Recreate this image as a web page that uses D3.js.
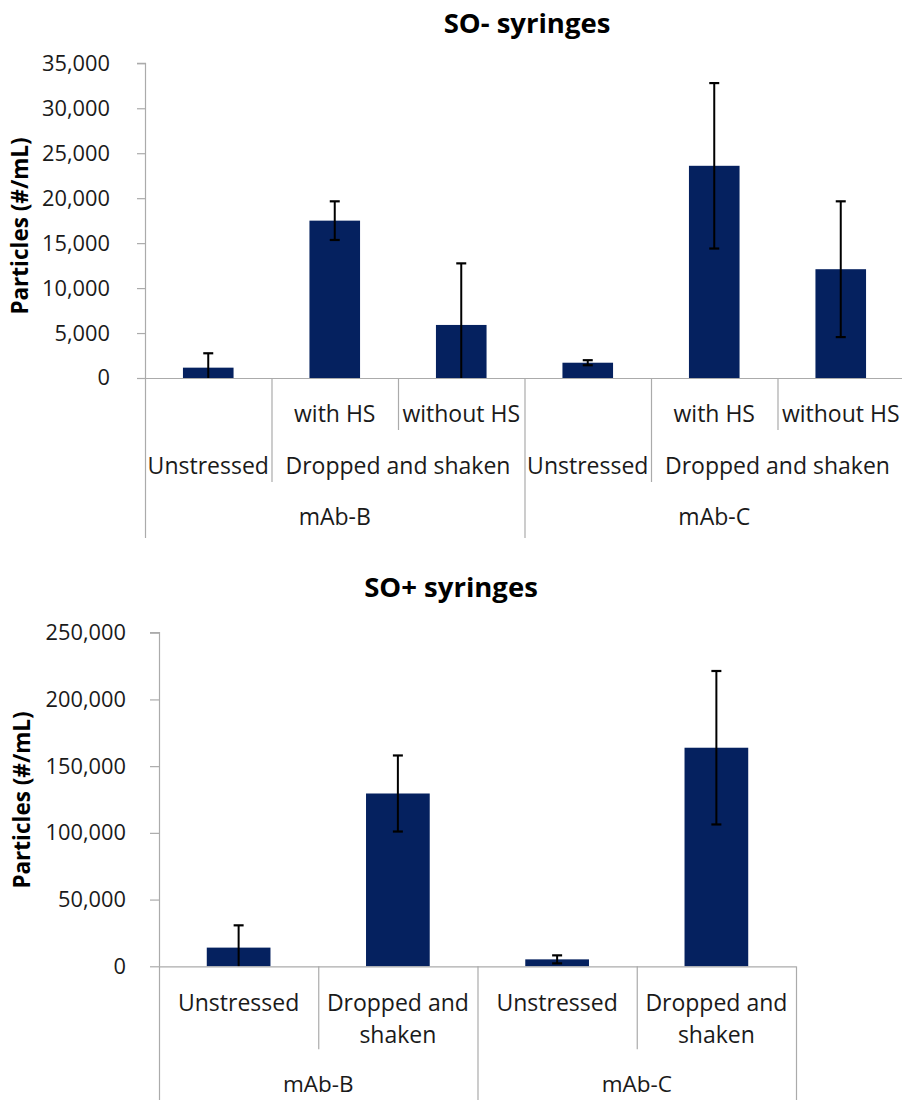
<!DOCTYPE html>
<html>
<head>
<meta charset="utf-8">
<script src="https://cdn.jsdelivr.net/npm/d3@7"></script>
<style>
  html, body { margin: 0; padding: 0; background: #fff; }
  svg { display: block; }
  text { font-family: "Open Sans", "Noto Sans", sans-serif; }
</style>
</head>
<body>
<svg id="chart" width="902" height="1100"></svg>
<script>
// ---------- DATA: SO- syringes ----------
const soMinusTitle = "SO- syringes";
const soMinusLeafLabels = ["", "with HS", "without HS", "", "with HS", "without HS"];
const soMinusMidLabels = ["Unstressed", "Dropped and shaken", "Unstressed", "Dropped and shaken"];
const soMinusMidSpans = [1, 2, 1, 2];
const soMinusGroupLabels = ["mAb-B", "mAb-C"];
const soMinusGroupSpans = [3, 3];
const soMinusValues = [1150, 17500, 5900, 1700, 23600, 12100];
const soMinusErrors = [1600, 2150, 6850, 280, 9200, 7550];
const soMinusTicks = [0, 5000, 10000, 15000, 20000, 25000, 30000, 35000];

// ---------- DATA: SO+ syringes ----------
const soPlusTitle = "SO+ syringes";
const soPlusLeafLabels = [["Unstressed"], ["Dropped and", "shaken"], ["Unstressed"], ["Dropped and", "shaken"]];
const soPlusGroupLabels = ["mAb-B", "mAb-C"];
const soPlusGroupSpans = [2, 2];
const soPlusValues = [14000, 129500, 5200, 163800];
const soPlusErrors = [16700, 28500, 3000, 57500];
const soPlusTicks = [0, 50000, 100000, 150000, 200000, 250000];

const yTitle = "Particles (#/mL)";

// ---------- STYLE ----------
const barColor = "#05215F";
const axisColor = "#ABABAB";
const textColor = "#1a1a1a";
const tickFont = 21.8;
const labelFont = 23;

const svg = d3.select("#chart");

function drawChart(cfg) {
  const g = svg.append("g");
  const n = cfg.values.length;
  const idx = d3.range(n);
  const x = d3.scaleBand().domain(idx).range([cfg.left, cfg.right]).paddingInner(0.6).paddingOuter(0.3);
  const cell = d3.scaleBand().domain(idx).range([cfg.left, cfg.right]).padding(0);
  const y = d3.scaleLinear().domain([0, d3.max(cfg.ticks)]).range([cfg.bottom, cfg.top]);

  // Title
  g.append("text").attr("x", cfg.titleX).attr("y", cfg.titleY)
    .attr("text-anchor", "middle").attr("font-weight", "bold")
    .attr("font-size", 27.5).attr("fill", "#000").text(cfg.title);

  // Y axis title
  g.append("text")
    .attr("transform", `translate(${cfg.yTitleX},${cfg.yTitleY}) rotate(-90)`)
    .attr("text-anchor", "middle").attr("font-weight", "bold")
    .attr("font-size", 22.5).attr("fill", "#000").text(yTitle);

  // Y axis
  const yAxis = d3.axisLeft(y).tickValues(cfg.ticks).tickSize(cfg.tickLen)
    .tickPadding(cfg.tickPad).tickFormat(d3.format(","));
  const ya = g.append("g").attr("transform", `translate(${cfg.left},0)`).call(yAxis);
  ya.select(".domain").attr("stroke", axisColor).attr("stroke-width", 1.2)
    .attr("d", `M${-cfg.tickLen},${y(d3.max(cfg.ticks))}H0.5V${cfg.bottom}`);
  ya.selectAll(".tick line").attr("stroke", axisColor).attr("stroke-width", 1.2);
  ya.selectAll(".tick text").attr("font-size", tickFont).attr("fill", textColor)
    .attr("font-family", "'Open Sans', sans-serif");

  // Bars
  g.selectAll("rect.bar").data(cfg.values).join("rect").attr("class", "bar")
    .attr("x", (d, i) => x(i)).attr("width", x.bandwidth())
    .attr("y", d => y(d)).attr("height", d => cfg.bottom - y(d))
    .attr("fill", barColor);

  // Error bars
  const capW = 10;
  cfg.values.forEach((v, i) => {
    const cx = x(i) + x.bandwidth() / 2;
    const hi = v + cfg.errors[i];
    const lo = Math.max(0, v - cfg.errors[i]);
    g.append("line").attr("x1", cx).attr("x2", cx).attr("y1", y(hi)).attr("y2", y(lo))
      .attr("stroke", "#000").attr("stroke-width", 2);
    g.append("line").attr("x1", cx - capW / 2).attr("x2", cx + capW / 2)
      .attr("y1", y(hi)).attr("y2", y(hi)).attr("stroke", "#000").attr("stroke-width", 2.2);
    if (v - cfg.errors[i] > 0) {
      g.append("line").attr("x1", cx - capW / 2).attr("x2", cx + capW / 2)
        .attr("y1", y(lo)).attr("y2", y(lo)).attr("stroke", "#000").attr("stroke-width", 2.2);
    }
  });

  // X axis baseline
  g.append("line").attr("x1", cfg.left).attr("x2", cfg.right)
    .attr("y1", cfg.bottom + 0.5).attr("y2", cfg.bottom + 0.5)
    .attr("stroke", axisColor).attr("stroke-width", 1.2);

  // Separators: boundaries at index positions, length by level
  for (let k = 0; k <= n; k++) {
    const xx = (k < n ? cell(k) : cfg.right) + 0.5;
    let len = cfg.sepLens[0];
    if (cfg.groupBounds.includes(k)) len = cfg.sepLens[2];
    else if (cfg.midBounds.includes(k)) len = cfg.sepLens[1];
    g.append("line").attr("x1", xx).attr("x2", xx)
      .attr("y1", cfg.bottom).attr("y2", cfg.bottom + len)
      .attr("stroke", axisColor).attr("stroke-width", 1.2);
  }

  return { g, cell };
}

function bounds(spans) {
  const b = [0];
  spans.forEach(s => b.push(b[b.length - 1] + s));
  return b;
}

// ---------- Top chart ----------
{
  const midB = bounds(soMinusMidSpans);
  const grpB = bounds(soMinusGroupSpans);
  const cfg = {
    title: soMinusTitle, titleX: 527, titleY: 33,
    yTitleX: 28, yTitleY: 226,
    values: soMinusValues, errors: soMinusErrors, ticks: soMinusTicks,
    left: 145, right: 904, top: 63.3, bottom: 378,
    tickLen: 8, tickPad: 27,
    sepLens: [52, 104, 160],
    midBounds: midB, groupBounds: grpB
  };
  const { g, cell } = drawChart(cfg);
  const bw = cell.bandwidth();
  soMinusLeafLabels.forEach((t, i) => {
    if (!t) return;
    g.append("text").attr("x", cell(i) + bw / 2).attr("y", cfg.bottom + 44)
      .attr("text-anchor", "middle").attr("font-size", labelFont).attr("fill", textColor).text(t);
  });
  soMinusMidLabels.forEach((t, j) => {
    const x0 = cell(midB[j]), x1 = midB[j + 1] < soMinusValues.length ? cell(midB[j + 1]) : cfg.right;
    g.append("text").attr("x", (x0 + x1) / 2).attr("y", cfg.bottom + 96)
      .attr("text-anchor", "middle").attr("font-size", labelFont).attr("fill", textColor).text(t);
  });
  soMinusGroupLabels.forEach((t, j) => {
    const x0 = cell(grpB[j]), x1 = grpB[j + 1] < soMinusValues.length ? cell(grpB[j + 1]) : cfg.right;
    g.append("text").attr("x", (x0 + x1) / 2).attr("y", cfg.bottom + 147)
      .attr("text-anchor", "middle").attr("font-size", labelFont).attr("fill", textColor).text(t);
  });
}

// ---------- Bottom chart ----------
{
  const grpB = bounds(soPlusGroupSpans);
  const cfg = {
    title: soPlusTitle, titleX: 451, titleY: 597,
    yTitleX: 30, yTitleY: 800,
    values: soPlusValues, errors: soPlusErrors, ticks: soPlusTicks,
    left: 159, right: 796, top: 632.7, bottom: 966.3,
    tickLen: 9, tickPad: 24,
    sepLens: [83, 83, 200],
    midBounds: [], groupBounds: grpB
  };
  const { g, cell } = drawChart(cfg);
  const bw = cell.bandwidth();
  soPlusLeafLabels.forEach((lines, i) => {
    const t = g.append("text").attr("x", cell(i) + bw / 2).attr("y", cfg.bottom + 45)
      .attr("text-anchor", "middle").attr("font-size", labelFont).attr("fill", textColor);
    lines.forEach((ln, k) => {
      t.append("tspan").attr("x", cell(i) + bw / 2).attr("dy", k === 0 ? 0 : 32).text(ln);
    });
  });
  soPlusGroupLabels.forEach((t, j) => {
    const x0 = cell(grpB[j]), x1 = grpB[j + 1] < soPlusValues.length ? cell(grpB[j + 1]) : cfg.right;
    g.append("text").attr("x", (x0 + x1) / 2).attr("y", cfg.bottom + 126)
      .attr("text-anchor", "middle").attr("font-size", 22.5).attr("fill", textColor).text(t);
  });
}
</script>
</body>
</html>
